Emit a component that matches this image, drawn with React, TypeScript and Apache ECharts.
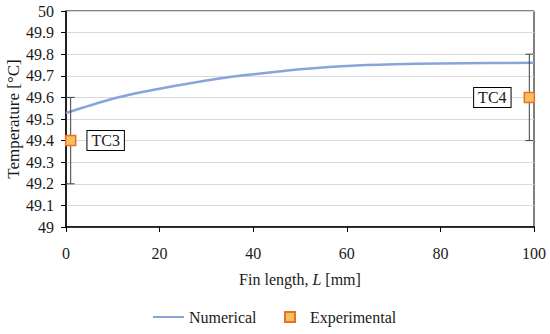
import React, { useEffect, useRef } from "react";
import * as echarts from "echarts";

const finLength = [0, 5, 10, 15, 20, 25, 30, 35, 40, 45, 50, 60, 70, 80, 90, 100];
const numerical = [49.528, 49.562, 49.594, 49.619, 49.64, 49.66, 49.678, 49.694, 49.707, 49.719, 49.73, 49.745, 49.753, 49.757, 49.759, 49.76];
const expX = [1, 99];
const expY = [49.4, 49.6];
const expErr = [0.2, 0.2];
const expLabels = ["TC3", "TC4"];

const FONT = "'Liberation Serif', 'DejaVu Serif', serif";
const TXT = "#1a1a1a";

export default function App() {
  const ref = useRef<HTMLDivElement>(null);
  useEffect(() => {
    if (!ref.current) return;
    const chart = echarts.init(ref.current, null, { renderer: "svg" });
    const numData = finLength.map((x, i) => [x, numerical[i]]);
    const expData = expX.map((x, i) => ({
      value: [x, expY[i]],
      label: {
        show: true,
        formatter: expLabels[i],
        position: i === 0 ? "right" : "left",
        distance: i === 0 ? 11 : 13,
        color: TXT,
        fontFamily: FONT,
        fontSize: 16,
        backgroundColor: "#fff",
        borderColor: "#000",
        borderWidth: 1,
        padding: [2, 4, 1, 4],
      },
    }));
    const errData = expX.map((x, i) => [x, expY[i] - expErr[i], expY[i] + expErr[i]]);
    chart.setOption({
      animation: false,
      grid: {
        left: 66,
        right: 16,
        top: 11,
        bottom: 107,
        outerBoundsMode: "none",
        containLabel: false,
        show: true,
        borderColor: "#000",
        borderWidth: 1,
        backgroundColor: "transparent",
      },
      legend: [
        {
          data: ["Numerical"],
          left: 152,
          top: 309,
          padding: 0,
          itemWidth: 31,
          itemHeight: 10,
          itemGap: 0,
          itemStyle: { opacity: 0 },
          textStyle: { fontFamily: FONT, fontSize: 16, color: TXT },
        },
        {
          data: ["Experimental"],
          left: 284,
          top: 309,
          padding: 0,
          itemWidth: 10,
          itemHeight: 10,
          textStyle: { fontFamily: FONT, fontSize: 16, color: TXT, padding: [0, 0, 0, 10] },
        },
      ],
      xAxis: {
        type: "value",
        min: 0,
        max: 100,
        interval: 20,
        name: "{a|Fin length, }{i|L}{a| [mm]}",
        nameLocation: "middle",
        nameGap: 44,
        nameMoveOverlap: false,
        nameTextStyle: {
          rich: {
            a: { fontFamily: FONT, fontSize: 16, color: TXT },
            i: { fontFamily: FONT, fontSize: 16, color: TXT, fontStyle: "italic" },
          },
        },
        axisLine: { lineStyle: { color: "#000", width: 1.5 } },
        axisTick: { show: true, length: 5, lineStyle: { color: "#000" } },
        axisLabel: { fontFamily: FONT, fontSize: 16, color: TXT, margin: 18 },
        splitLine: { show: false },
      },
      yAxis: {
        type: "value",
        min: 49,
        max: 50,
        interval: 0.1,
        name: "Temperature [°C]",
        nameLocation: "middle",
        nameGap: 44,
        nameMoveOverlap: false,
        nameTextStyle: { fontFamily: FONT, fontSize: 17, color: TXT },
        axisLine: { show: true, lineStyle: { color: "#000", width: 1.5 } },
        axisTick: { show: true, length: 5, lineStyle: { color: "#000" } },
        axisLabel: {
          fontFamily: FONT,
          fontSize: 16,
          color: TXT,
          margin: 12,
          formatter: (v: number) => String(Math.round(v * 10) / 10),
        },
        splitLine: { show: true, lineStyle: { color: "#d9d9d9", width: 1 } },
      },
      series: [
        {
          name: "Numerical",
          type: "line",
          data: numData,
          smooth: 0.3,
          symbol: "none",
          lineStyle: { color: "#88A5DA", width: 2.5 },
          itemStyle: { color: "#88A5DA" },
          z: 3,
        },
        {
          name: "errorbars",
          type: "custom",
          data: errData,
          z: 4,
          renderItem: (params: any, api: any) => {
            const x = api.value(0);
            const lo = api.coord([x, api.value(1)]);
            const hi = api.coord([x, api.value(2)]);
            const cap = 4;
            const style = { stroke: "#404040", lineWidth: 1 };
            return {
              type: "group",
              children: [
                { type: "line", shape: { x1: lo[0], y1: lo[1], x2: hi[0], y2: hi[1] }, style },
                { type: "line", shape: { x1: lo[0] - cap, y1: lo[1], x2: lo[0] + cap, y2: lo[1] }, style },
                { type: "line", shape: { x1: hi[0] - cap, y1: hi[1], x2: hi[0] + cap, y2: hi[1] }, style },
              ],
            };
          },
        },
        {
          name: "Experimental",
          type: "scatter",
          data: expData,
          symbol: "rect",
          symbolSize: 10,
          itemStyle: { color: "#F9BE5E", borderColor: "#E8702A", borderWidth: 1.5, opacity: 1 },
          z: 5,
        },
      ],
    });
    return () => chart.dispose();
  }, []);
  return (
    <div
      ref={ref}
      style={{ position: "fixed", left: 0, top: 0, width: 550, height: 334, background: "#fff" }}
    />
  );
}
